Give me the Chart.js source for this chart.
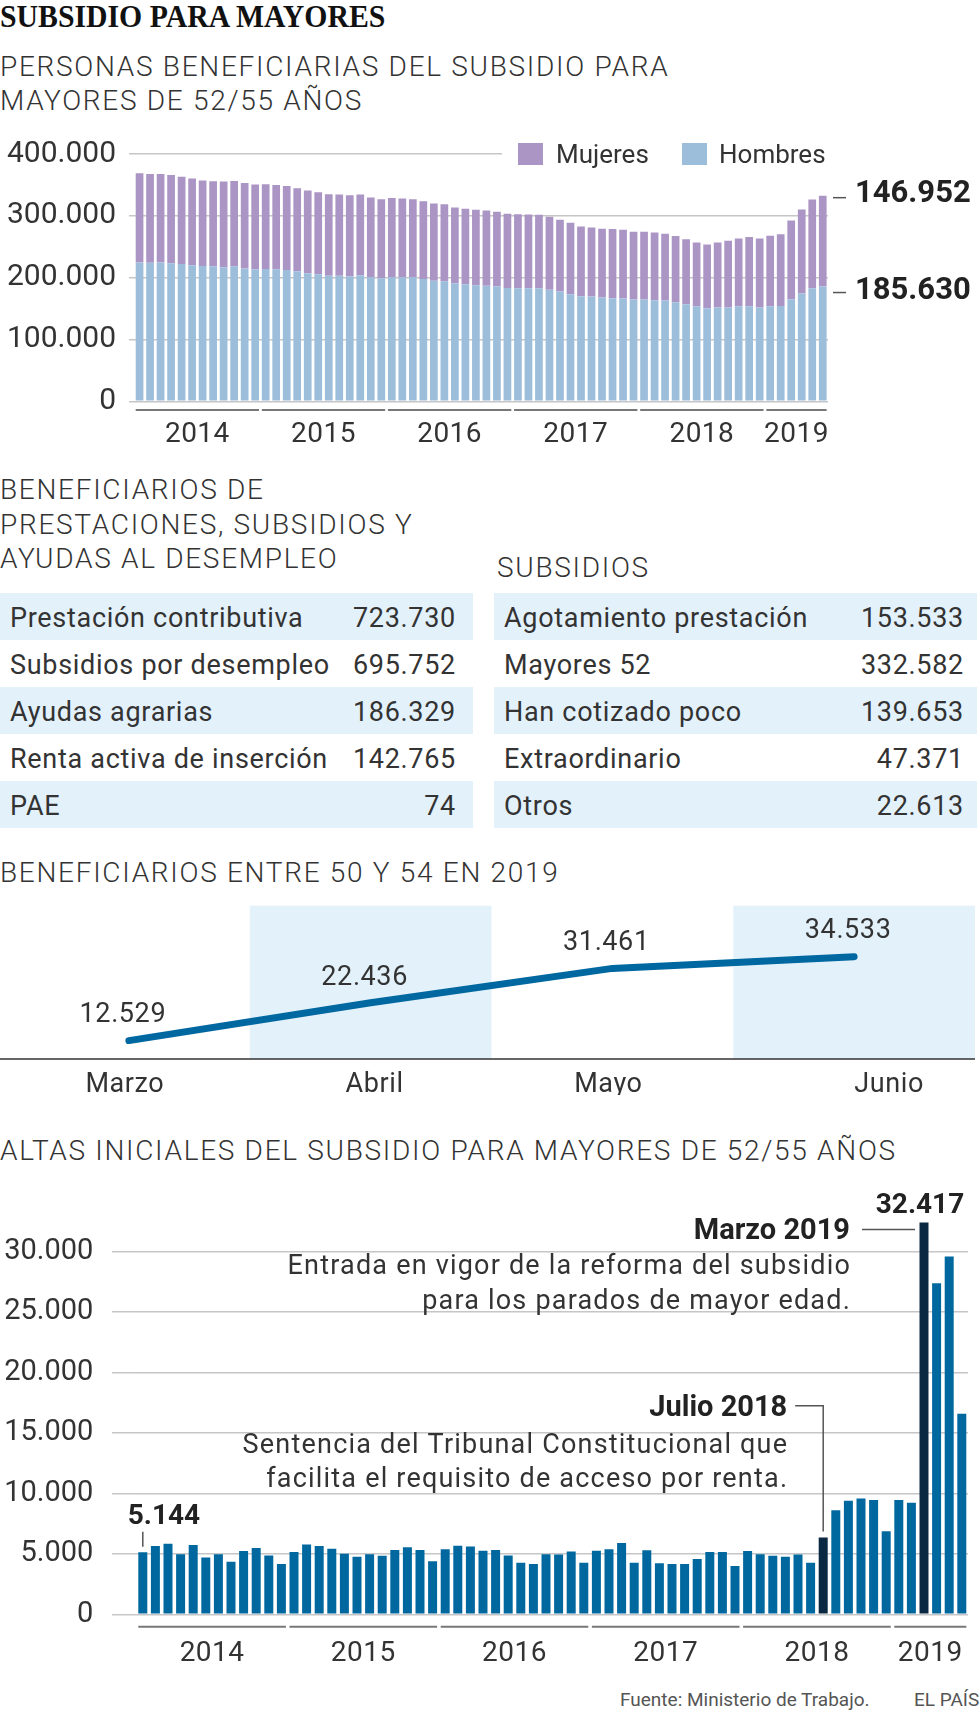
<!DOCTYPE html>
<html>
<head>
<meta charset="utf-8">
<script src="https://cdn.jsdelivr.net/npm/chart.js@4.4.1/dist/chart.umd.min.js"></script>
<style>
  body { margin: 0; width: 980px; height: 1712px; position: relative; background: #fff; font-family: Roboto, sans-serif; color: #333; overflow: hidden; }
  .head { position: absolute; left: 0; top: 0; font-family: "Liberation Serif", serif; font-weight: bold; font-size: 31px; line-height: 34px; color: #111; transform: scaleX(0.96); transform-origin: left top; white-space: nowrap; }
  .sub { position: absolute; left: 0; font-weight: 300; font-size: 28px; line-height: 34px; letter-spacing: 1.7px; color: #333; white-space: nowrap; }
  canvas { position: absolute; left: 0; }
  .legend { position: absolute; left: 502px; top: 140px; width: 335px; height: 28px; background: #fff; }
  .legend .sw { position: absolute; top: 3px; width: 25px; height: 22px; }
  .legend .tx { position: absolute; top: 0; font-size: 26px; line-height: 28px; color: #333; }
  .tbl { position: absolute; top: 593px; }
  .row { height: 47px; display: flex; justify-content: space-between; align-items: center; font-size: 27px; letter-spacing: 0.7px; padding-top: 3px; box-sizing: border-box; }
  .row.blue { background: #e3f1fb; }
  .foot { position: absolute; top: 1689px; font-size: 19px; line-height: 22px; color: #555; white-space: nowrap; }
</style>
</head>
<body>
<div class="head">SUBSIDIO PARA MAYORES</div>
<div class="sub" style="top:50px">PERSONAS BENEFICIARIAS DEL SUBSIDIO PARA<br>MAYORES DE 52/55 AÑOS</div>

<canvas id="chartBenef" width="980" height="330" style="top:120px"></canvas>
<div class="legend">
  <div class="sw" style="left:16px;background:#ab95c4"></div><div class="tx" style="left:54px">Mujeres</div>
  <div class="sw" style="left:180px;background:#9dbedb"></div><div class="tx" style="left:217px">Hombres</div>
</div>

<div class="sub" style="top:473px;line-height:34.5px">BENEFICIARIOS DE<br>PRESTACIONES, SUBSIDIOS Y<br>AYUDAS AL DESEMPLEO</div>
<div class="sub" style="top:551px;left:497px">SUBSIDIOS</div>
<div class="tbl" id="tblLeft" style="left:0;width:473px"></div>
<div class="tbl" id="tblRight" style="left:494px;width:483px"></div>

<div class="sub" style="top:856px">BENEFICIARIOS ENTRE 50 Y 54 EN 2019</div>
<canvas id="chartLine" width="980" height="200" style="top:895px"></canvas>

<div class="sub" style="top:1134px">ALTAS INICIALES DEL SUBSIDIO PARA MAYORES DE 52/55 AÑOS</div>
<canvas id="chartAltas" width="980" height="520" style="top:1150px"></canvas>

<div class="foot" style="left:620px">Fuente: Ministerio de Trabajo.</div>
<div class="foot" style="left:914px">EL PAÍS</div>

<script>
// Months Jan 2014 - Jun 2019
const months = [
  '01/14','02/14','03/14','04/14','05/14','06/14','07/14','08/14','09/14','10/14','11/14','12/14',
  '01/15','02/15','03/15','04/15','05/15','06/15','07/15','08/15','09/15','10/15','11/15','12/15',
  '01/16','02/16','03/16','04/16','05/16','06/16','07/16','08/16','09/16','10/16','11/16','12/16',
  '01/17','02/17','03/17','04/17','05/17','06/17','07/17','08/17','09/17','10/17','11/17','12/17',
  '01/18','02/18','03/18','04/18','05/18','06/18','07/18','08/18','09/18','10/18','11/18','12/18',
  '01/19','02/19','03/19','04/19','05/19','06/19'
];
const years = ['2014', '2015', '2016', '2017', '2018', '2019'];

// Beneficiaries of the subsidy (people)
const hombres = [
  224700, 224200, 224700, 223100, 222000, 219900, 218800, 218300, 216700, 218300, 215000, 213400,
  214000, 213400, 212400, 210200, 207000, 205400, 203200, 203200, 202100, 203700, 200500, 198900,
  200500, 200500, 200500, 197800, 195100, 194100, 190800, 189200, 187600, 187100, 185500, 183300,
  182800, 182800, 182800, 180600, 177400, 173100, 169900, 169400, 167700, 166700, 166100, 164500,
  164500, 163400, 162900, 160200, 157000, 153800, 150500, 151600, 151600, 153800, 153800, 151600,
  153800, 154300, 165000, 174200, 182800, 185630
];
const mujeres = [
  144100, 143500, 143000, 143000, 141400, 140300, 138200, 137600, 138700, 138100, 138200, 137100,
  137100, 136600, 136000, 134400, 133800, 132800, 131700, 131200, 131200, 130700, 129000, 128000,
  128500, 127400, 126400, 125800, 124800, 124700, 122600, 122100, 122100, 121500, 120900, 119900,
  119900, 119300, 118800, 117800, 116100, 115600, 112900, 111800, 111300, 111800, 111300, 109700,
  109700, 109700, 108000, 107000, 105300, 103200, 103200, 105400, 108100, 109600, 111800, 111800,
  113900, 116100, 127500, 136000, 143500, 146952
];

// Tables
const prestacionesLabels = ['Prestación contributiva', 'Subsidios por desempleo', 'Ayudas agrarias', 'Renta activa de inserción', 'PAE'];
const prestacionesValues = [723730, 695752, 186329, 142765, 74];
const subsidiosLabels = ['Agotamiento prestación', 'Mayores 52', 'Han cotizado poco', 'Extraordinario', 'Otros'];
const subsidiosValues = [153533, 332582, 139653, 47371, 22613];

// Beneficiaries between 50 and 54 in 2019
const lineMonths = ['Marzo', 'Abril', 'Mayo', 'Junio'];
const lineValues = [12529, 22436, 31461, 34533];

// Initial registrations
const altas = [
  5144, 5650, 5840, 4970, 5740, 4710, 4970, 4350, 5230, 5480, 4870, 4160,
  5160, 5770, 5650, 5420, 5000, 4770, 4970, 4840, 5320, 5550, 5320, 4390,
  5390, 5680, 5610, 5260, 5320, 4870, 4260, 4160, 4970, 4940, 5190, 4260,
  5260, 5390, 5900, 4260, 5290, 4230, 4160, 4160, 4580, 5160, 5160, 4000,
  5230, 4970, 4840, 4770, 4940, 4260, 6360, 8610, 9390, 9580, 9450, 6870,
  9450, 9230, 32417, 27400, 29600, 16600
];
const altasTicks = [0, 5000, 10000, 15000, 20000, 25000, 30000];
const highlightMonths = ['07/18', '03/19'];
const notes = {
  '03/19': ['Marzo 2019', 'Entrada en vigor de la reforma del subsidio', 'para los parados de mayor edad.'],
  '07/18': ['Julio 2018', 'Sentencia del Tribunal Constitucional que', 'facilita el requisito de acceso por renta.']
};

// Number formatting with dots
function fmt(n) {
  return String(n).replace(/\B(?=(\d{3})+(?!\d))/g, '.');
}

// Fill tables
function fillTable(el, labels, values, padR) {
  labels.forEach((lab, i) => {
    const row = document.createElement('div');
    row.className = 'row' + (i % 2 === 0 ? ' blue' : '');
    row.style.paddingLeft = '10px';
    row.style.paddingRight = padR + 'px';
    row.innerHTML = '<span>' + lab + '</span><span>' + fmt(values[i]) + '</span>';
    el.appendChild(row);
  });
}
fillTable(document.getElementById('tblLeft'), prestacionesLabels, prestacionesValues, 17);
fillTable(document.getElementById('tblRight'), subsidiosLabels, subsidiosValues, 13);

Chart.defaults.font.family = 'Roboto';
Chart.defaults.color = '#333';

// Year segments under the month bars
function yearAxis(lineOff, labelOff, fontSize) {
  return {
    id: 'yearAxis',
    afterDraw(chart) {
      const ctx = chart.ctx;
      const meta = chart.getDatasetMeta(0);
      const bottom = chart.chartArea.bottom;
      ctx.save();
      ctx.font = fontSize + 'px Roboto';
      ctx.letterSpacing = '0.5px';
      ctx.fillStyle = '#333';
      ctx.textAlign = 'center';
      ctx.textBaseline = 'middle';
      years.forEach(y => {
        const idx = months.map((m, i) => m.slice(3) === y.slice(2) ? i : -1).filter(i => i >= 0);
        const first = meta.data[idx[0]], last = meta.data[idx[idx.length - 1]];
        const x0 = first.x - first.width / 2, x1 = last.x + last.width / 2;
        ctx.strokeStyle = '#777';
        ctx.lineWidth = 2;
        ctx.beginPath();
        ctx.moveTo(x0, bottom + lineOff);
        ctx.lineTo(x1, bottom + lineOff);
        ctx.stroke();
        ctx.fillText(y, (x0 + x1) / 2, bottom + labelOff);
      });
      ctx.restore();
    }
  };
}

// Chart 1: stacked bars
const lastLabels = {
  id: 'lastLabels',
  afterDraw(chart) {
    const ctx = chart.ctx;
    const y = chart.scales.y;
    const n = hombres.length - 1;
    const marks = [
      { v: hombres[n] + mujeres[n], txt: fmt(mujeres[n]), line: 2, text: -1 },
      { v: hombres[n], txt: fmt(hombres[n]), line: 6, text: 5 }
    ];
    const xr = chart.chartArea.right;
    ctx.save();
    ctx.font = 'bold 31px Roboto';
    ctx.fillStyle = '#222';
    ctx.textBaseline = 'middle';
    ctx.strokeStyle = '#555';
    ctx.lineWidth = 1.5;
    marks.forEach(m => {
      const py = y.getPixelForValue(m.v);
      ctx.beginPath();
      ctx.moveTo(xr + 5, py + m.line);
      ctx.lineTo(xr + 18, py + m.line);
      ctx.stroke();
      ctx.fillText(m.txt, xr + 27, py + m.text);
    });
    ctx.restore();
  }
};

new Chart(document.getElementById('chartBenef'), {
  type: 'bar',
  data: {
    labels: months,
    datasets: [
      { label: 'Hombres', data: hombres, backgroundColor: '#9dbedb' },
      { label: 'Mujeres', data: mujeres, backgroundColor: '#ab95c4' }
    ]
  },
  options: {
    responsive: false,
    animation: false,
    datasets: { bar: { barPercentage: 0.733, categoryPercentage: 1 } },
    layout: { padding: { top: 34, right: 152, bottom: 48.7, left: 0 } },
    plugins: { legend: { display: false }, tooltip: { enabled: false } },
    scales: {
      x: { stacked: true, display: false },
      y: {
        stacked: true,
        min: 0, max: 400000,
        border: { display: false },
        grid: { color: '#c6c6c6', lineWidth: 1.5, tickLength: 5.3 },
        ticks: {
          stepSize: 50000,
          padding: 13,
          font: { size: 30 },
          color: '#333',
          callback: v => v % 100000 === 0 ? fmt(v) : ''
        },
        afterFit(s) { s.width = 134.3; }
      }
    }
  },
  plugins: [yearAxis(8.7, 34, 28), lastLabels]
});

// Chart 3: line
const lineDeco = {
  id: 'lineDeco',
  beforeDatasetsDraw(chart) {
    const ctx = chart.ctx;
    const x = chart.scales.x;
    const a = chart.chartArea;
    const w = x.getPixelForValue(1) - x.getPixelForValue(0);
    ctx.save();
    ctx.fillStyle = '#e3f1fb';
    lineMonths.forEach((m, i) => {
      if (i % 2 === 1) {
        const cx = x.getPixelForValue(i);
        ctx.fillRect(cx - w / 2, a.top, w, a.bottom - a.top);
      }
    });
    ctx.strokeStyle = '#333';
    ctx.lineWidth = 1.5;
    ctx.beginPath();
    ctx.moveTo(0, a.bottom);
    ctx.lineTo(a.right, a.bottom);
    ctx.stroke();
    ctx.restore();
  },
  afterDraw(chart) {
    const ctx = chart.ctx;
    const x = chart.scales.x, y = chart.scales.y;
    const a = chart.chartArea;
    const labelShift = [-4, 4, -4, 35];
    ctx.save();
    ctx.font = '27px Roboto';
    ctx.letterSpacing = '0.6px';
    ctx.fillStyle = '#333';
    ctx.textAlign = 'center';
    ctx.textBaseline = 'middle';
    lineValues.forEach((v, i) => {
      const px = x.getPixelForValue(i);
      const py = y.getPixelForValue(v);
      ctx.fillText(fmt(v), px - 6, py - 25);
      ctx.fillText(lineMonths[i], px + labelShift[i], a.bottom + 26);
    });
    ctx.restore();
  }
};

new Chart(document.getElementById('chartLine'), {
  type: 'line',
  data: {
    labels: lineMonths,
    datasets: [{
      data: lineValues,
      borderColor: '#0068a0',
      borderWidth: 7,
      borderCapStyle: 'round',
      pointRadius: 0,
      tension: 0
    }]
  },
  options: {
    responsive: false,
    animation: false,
    layout: { padding: { top: 10.7, right: 5, bottom: 36, left: 8 } },
    plugins: { legend: { display: false }, tooltip: { enabled: false } },
    scales: {
      x: { display: false, offset: true },
      y: { display: false, min: 7700, max: 47900 }
    }
  },
  plugins: [lineDeco]
});

// Chart 4: initial registrations
const altasNotes = {
  id: 'altasNotes',
  afterDraw(chart) {
    const ctx = chart.ctx;
    const meta = chart.getDatasetMeta(0);
    const y = chart.scales.y;
    ctx.save();
    ctx.textBaseline = 'middle';
    ctx.strokeStyle = '#555';
    ctx.lineWidth = 1.5;

    // first value
    const b0 = meta.data[0];
    ctx.fillStyle = '#222';
    ctx.font = 'bold 28px Roboto';
    ctx.textAlign = 'left';
    ctx.fillText(fmt(altas[0]), b0.x - 15, b0.y - 35);
    ctx.beginPath();
    ctx.moveTo(b0.x, b0.y - 20.5);
    ctx.lineTo(b0.x, b0.y - 5.5);
    ctx.stroke();

    // March 2019
    const iM = months.indexOf('03/19');
    const bm = meta.data[iM];
    const nm = notes['03/19'];
    ctx.textAlign = 'center';
    ctx.fillText(fmt(altas[iM]), bm.x - 4, bm.y - 17);
    ctx.textAlign = 'right';
    ctx.font = 'bold 29px Roboto';
    ctx.fillText(nm[0], bm.x - 74, bm.y + 9);
    ctx.beginPath();
    ctx.moveTo(bm.x - 62, bm.y + 7);
    ctx.lineTo(bm.x - 9, bm.y + 7);
    ctx.stroke();
    ctx.font = '27px Roboto';
    ctx.letterSpacing = '1.2px';
    ctx.fillStyle = '#333';
    ctx.fillText(nm[1], bm.x - 73, bm.y + 45);
    ctx.fillText(nm[2], bm.x - 73, bm.y + 80);

    // July 2018
    const iJ = months.indexOf('07/18');
    const bj = meta.data[iJ];
    const nj = notes['07/18'];
    const ly = y.getPixelForValue(17250);
    ctx.letterSpacing = '0px';
    ctx.fillStyle = '#222';
    ctx.font = 'bold 29px Roboto';
    ctx.fillText(nj[0], bj.x - 36, ly + 3);
    ctx.beginPath();
    ctx.moveTo(bj.x - 28, ly);
    ctx.lineTo(bj.x, ly);
    ctx.lineTo(bj.x, bj.y - 6);
    ctx.stroke();
    ctx.font = '27px Roboto';
    ctx.letterSpacing = '1.2px';
    ctx.fillStyle = '#333';
    ctx.fillText(nj[1], bj.x - 35, ly + 40);
    ctx.fillText(nj[2], bj.x - 35, ly + 74);
    ctx.restore();
  }
};

new Chart(document.getElementById('chartAltas'), {
  type: 'bar',
  data: {
    labels: months,
    datasets: [{
      data: altas,
      backgroundColor: months.map(m => highlightMonths.includes(m) ? '#0a2841' : '#00689f')
    }]
  },
  options: {
    responsive: false,
    animation: false,
    datasets: { bar: { barPercentage: 0.714, categoryPercentage: 1 } },
    layout: { padding: { top: 41.3, right: 11.9, bottom: 55.7, left: 0 } },
    plugins: { legend: { display: false }, tooltip: { enabled: false } },
    scales: {
      x: { display: false },
      y: {
        min: 0, max: 35000,
        border: { display: false },
        grid: {
          color: c => altasTicks.includes(c.tick.value) ? '#c6c6c6' : 'rgba(0,0,0,0)',
          lineWidth: 1.5,
          tickLength: 24.5
        },
        ticks: {
          stepSize: 5000,
          padding: 18.7,
          font: { size: 29 },
          color: '#333',
          callback: v => altasTicks.includes(v) ? fmt(v) : ''
        },
        afterFit(s) { s.width = 136.5; }
      }
    }
  },
  plugins: [yearAxis(12.4, 40, 28), altasNotes]
});
</script>
</body>
</html>
